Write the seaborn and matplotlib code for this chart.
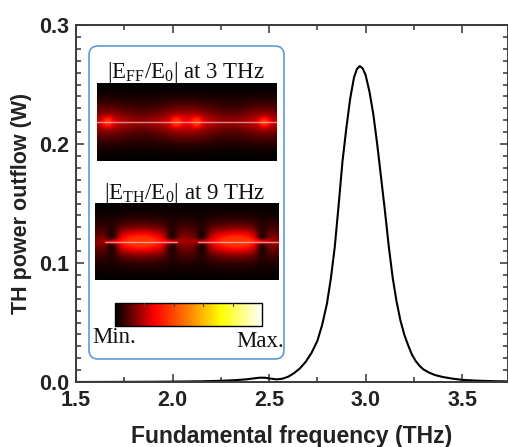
import numpy as np
import pandas as pd
import matplotlib
matplotlib.use("Agg")
import matplotlib.pyplot as plt
import seaborn as sns
from matplotlib.patches import FancyBboxPatch, Rectangle
from matplotlib.colors import LinearSegmentedColormap
from matplotlib.ticker import MultipleLocator, FormatStrFormatter

# Third-harmonic power outflow versus fundamental frequency
freq_thz = [1.50, 1.70, 1.90, 2.05, 2.15, 2.25, 2.32, 2.38, 2.42, 2.45, 2.48,
            2.51, 2.54, 2.57, 2.60, 2.63, 2.66, 2.69, 2.72, 2.75, 2.775, 2.80,
            2.82, 2.84, 2.86, 2.88, 2.90, 2.92, 2.94, 2.955, 2.97, 2.985, 3.00,
            3.02, 3.04, 3.06, 3.08, 3.10, 3.12, 3.14, 3.16, 3.18, 3.20, 3.22,
            3.24, 3.26, 3.28, 3.30, 3.33, 3.36, 3.40, 3.45, 3.50, 3.58, 3.66, 3.735]
power_w = [0.0000, 0.0001, 0.0002, 0.0004, 0.0006, 0.0010, 0.0015, 0.0022, 0.0030,
           0.0036, 0.0036, 0.0028, 0.0022, 0.0028, 0.0045, 0.0075, 0.0115, 0.0170,
           0.0245, 0.0345, 0.0480, 0.0660, 0.0870, 0.1130, 0.1480, 0.1850, 0.2130,
           0.2380, 0.2560, 0.2630, 0.2655, 0.2635, 0.2580, 0.2440, 0.2250, 0.2000,
           0.1720, 0.1440, 0.1140, 0.0880, 0.0680, 0.0520, 0.0400, 0.0310, 0.0230,
           0.0175, 0.0135, 0.0105, 0.0078, 0.0058, 0.0042, 0.0028, 0.0018, 0.0011,
           0.0007, 0.0005]

x_ticks = [1.5, 2.0, 2.5, 3.0, 3.5]
y_ticks = [0.0, 0.1, 0.2, 0.3]

# Field-map features (fractions of the map width)
ff_hotspots = [0.06, 0.44, 0.555, 0.93]
th_lobes = [0.25, 0.77]
th_nodes = [0.09, 0.42, 0.58, 0.91]

# Black -> red -> yellow -> white colour scale
field_cmap = LinearSegmentedColormap.from_list(
    "field", [(0.0, "#000000"), (0.27, "#ff0000"), (0.50, "#ff8000"),
              (0.72, "#ffff00"), (1.0, "#ffffff")])

sns.set_theme(style="ticks")
plt.rcParams["font.family"] = ["Liberation Sans", "DejaVu Sans"]
plt.rcParams["mathtext.fontset"] = "custom"
plt.rcParams["mathtext.rm"] = "Liberation Serif"
plt.rcParams["mathtext.it"] = "Liberation Serif:italic"

W_PX, H_PX = 508, 447
fig = plt.figure(figsize=(W_PX / 100, H_PX / 100), dpi=100)
ax = fig.add_axes([76 / W_PX, 1 - 382 / H_PX, (507.5 - 76) / W_PX, (382 - 25) / H_PX])

df = pd.DataFrame({"freq": freq_thz, "power": power_w})
sns.lineplot(data=df, x="freq", y="power", color="black", lw=1.5, ax=ax,
             solid_joinstyle="round")

ax.set_xlim(1.5, 3.735)
ax.set_ylim(0, 0.3)
ax.set_xticks(x_ticks)
ax.set_yticks(y_ticks)
ax.xaxis.set_minor_locator(MultipleLocator(0.25))
ax.yaxis.set_minor_locator(MultipleLocator(0.01))
ax.yaxis.set_major_formatter(FormatStrFormatter("%.1f"))
ax.xaxis.set_major_formatter(FormatStrFormatter("%.1f"))
ax.tick_params(which="both", direction="in", top=True, right=True,
               color="#333333", width=1.1)
ax.tick_params(which="major", length=6)
ax.tick_params(which="minor", length=3.5)
ax.tick_params(axis="x", which="major", pad=6)
ax.tick_params(axis="y", which="major", pad=5)
for lab in ax.get_xticklabels() + ax.get_yticklabels():
    lab.set_fontsize(15.5)
    lab.set_fontweight("bold")
    lab.set_color("#222222")
for sp in ax.spines.values():
    sp.set_color("#3a3a3a")
    sp.set_linewidth(1.4)
ax.set_xlabel("Fundamental frequency (THz)", fontsize=16.5, fontweight="bold",
              color="#222222", labelpad=10)
ax.set_ylabel("TH power outflow (W)", fontsize=15.5, fontweight="bold",
              color="#222222", labelpad=5)

# Overlay in pixel coordinates for the inset panel
ov = fig.add_axes([0, 0, 1, 1], zorder=5)
ov.set_xlim(0, W_PX)
ov.set_ylim(H_PX, 0)
ov.axis("off")
ov.patch.set_alpha(0)

box = FancyBboxPatch((89, 46), 195, 313, boxstyle="round,pad=0,rounding_size=9",
                     ec="#5b9bd5", fc="white", lw=1.2)
ov.add_patch(box)

serif = ["Liberation Serif", "DejaVu Serif"]


def field_grid(w, h):
    xs = (np.arange(w) + 0.5) / w
    ys = (np.arange(h) + 0.5) / h * 2 - 1
    return np.meshgrid(xs, ys)


# Fundamental-frequency field map
fw, fh = 180, 78
X, Y = field_grid(fw, fh)
dyp = Y * fh / 2
ff = 0.10 * np.exp(-(Y / 0.55) ** 2) + 0.05 * np.exp(-(Y / 0.18) ** 2)
for xc in ff_hotspots:
    dxp = (X - xc) * fw
    ff += 0.18 * np.exp(-(dxp ** 2 + dyp ** 2) / (2 * 3.5 ** 2))
    ff += 0.07 * np.exp(-dxp ** 2 / (2 * 14 ** 2) - dyp ** 2 / (2 * 12 ** 2))
ff = np.clip(ff, 0, 0.36)
ov.imshow(ff, cmap=field_cmap, vmin=0, vmax=1, extent=(97, 277, 161, 83),
          aspect="auto", interpolation="bilinear", zorder=3)
ov.plot([97, 277], [122, 122], color="#f3c4c4", lw=1.0, alpha=0.7, zorder=4)

# Third-harmonic field map
tw, th = 184, 77
X, Y = field_grid(tw, th)
dyp = Y * th / 2
tf = 0.06 * np.exp(-(Y / 0.5) ** 2) + 0.03 * np.exp(-(Y / 0.12) ** 2)
for xc in th_lobes:
    dxp = (X - xc) * tw
    tf += 0.24 * np.exp(-dxp ** 2 / (2 * 20 ** 2) - dyp ** 2 / (2 * 8 ** 2))
    tf += 0.08 * np.exp(-dxp ** 2 / (2 * 32 ** 2) - dyp ** 2 / (2 * 17 ** 2))
for xn in th_nodes:
    dxp = (X - xn) * tw
    dark = np.exp(-dxp ** 2 / (2 * 4.5 ** 2)) * np.exp(-dyp ** 2 / (2 * 14 ** 2))
    dark *= 1 - np.exp(-dyp ** 2 / (2 * 2.0 ** 2))
    tf *= 1 - 0.9 * dark
tf = np.clip(tf, 0, 0.36)
ov.imshow(tf, cmap=field_cmap, vmin=0, vmax=1, extent=(95, 279, 280, 203),
          aspect="auto", interpolation="bilinear", zorder=3)
ov.plot([105, 177], [241.5, 241.5], color="#f3c4c4", lw=1.0, alpha=0.75, zorder=4)
ov.plot([198, 279], [241.5, 241.5], color="#f3c4c4", lw=1.0, alpha=0.75, zorder=4)

ov.text(186, 78, r"$|\mathrm{E}_{\mathrm{FF}}/\mathrm{E}_{0}|$ at 3 THz", ha="center",
        va="baseline", fontsize=16.5, family=serif, color="#111111", zorder=4)
ov.text(185, 199, r"$|\mathrm{E}_{\mathrm{TH}}/\mathrm{E}_{0}|$ at 9 THz", ha="center",
        va="baseline", fontsize=16.5, family=serif, color="#111111", zorder=4)

# Colour scale bar
grad = np.linspace(0, 1, 256)[None, :]
ov.imshow(grad, cmap=field_cmap, extent=(115, 262, 326, 303), aspect="auto", zorder=3)
ov.add_patch(Rectangle((115, 303), 147, 23, fill=False, ec="black", lw=1.0, zorder=4))
for k in range(1, 5):
    xk = 115 + k * 147 / 5
    ov.plot([xk, xk], [303, 306], color="#444444", lw=0.8, zorder=4)
ov.text(92, 343, "Min.", ha="left", va="baseline", fontsize=16.5, family=serif,
        color="#111111", zorder=4)
ov.text(284, 347, "Max.", ha="right", va="baseline", fontsize=16.5, family=serif,
        color="#111111", zorder=4)

ov.set_xlim(0, W_PX)
ov.set_ylim(H_PX, 0)

fig.savefig("out.png", dpi=100)
